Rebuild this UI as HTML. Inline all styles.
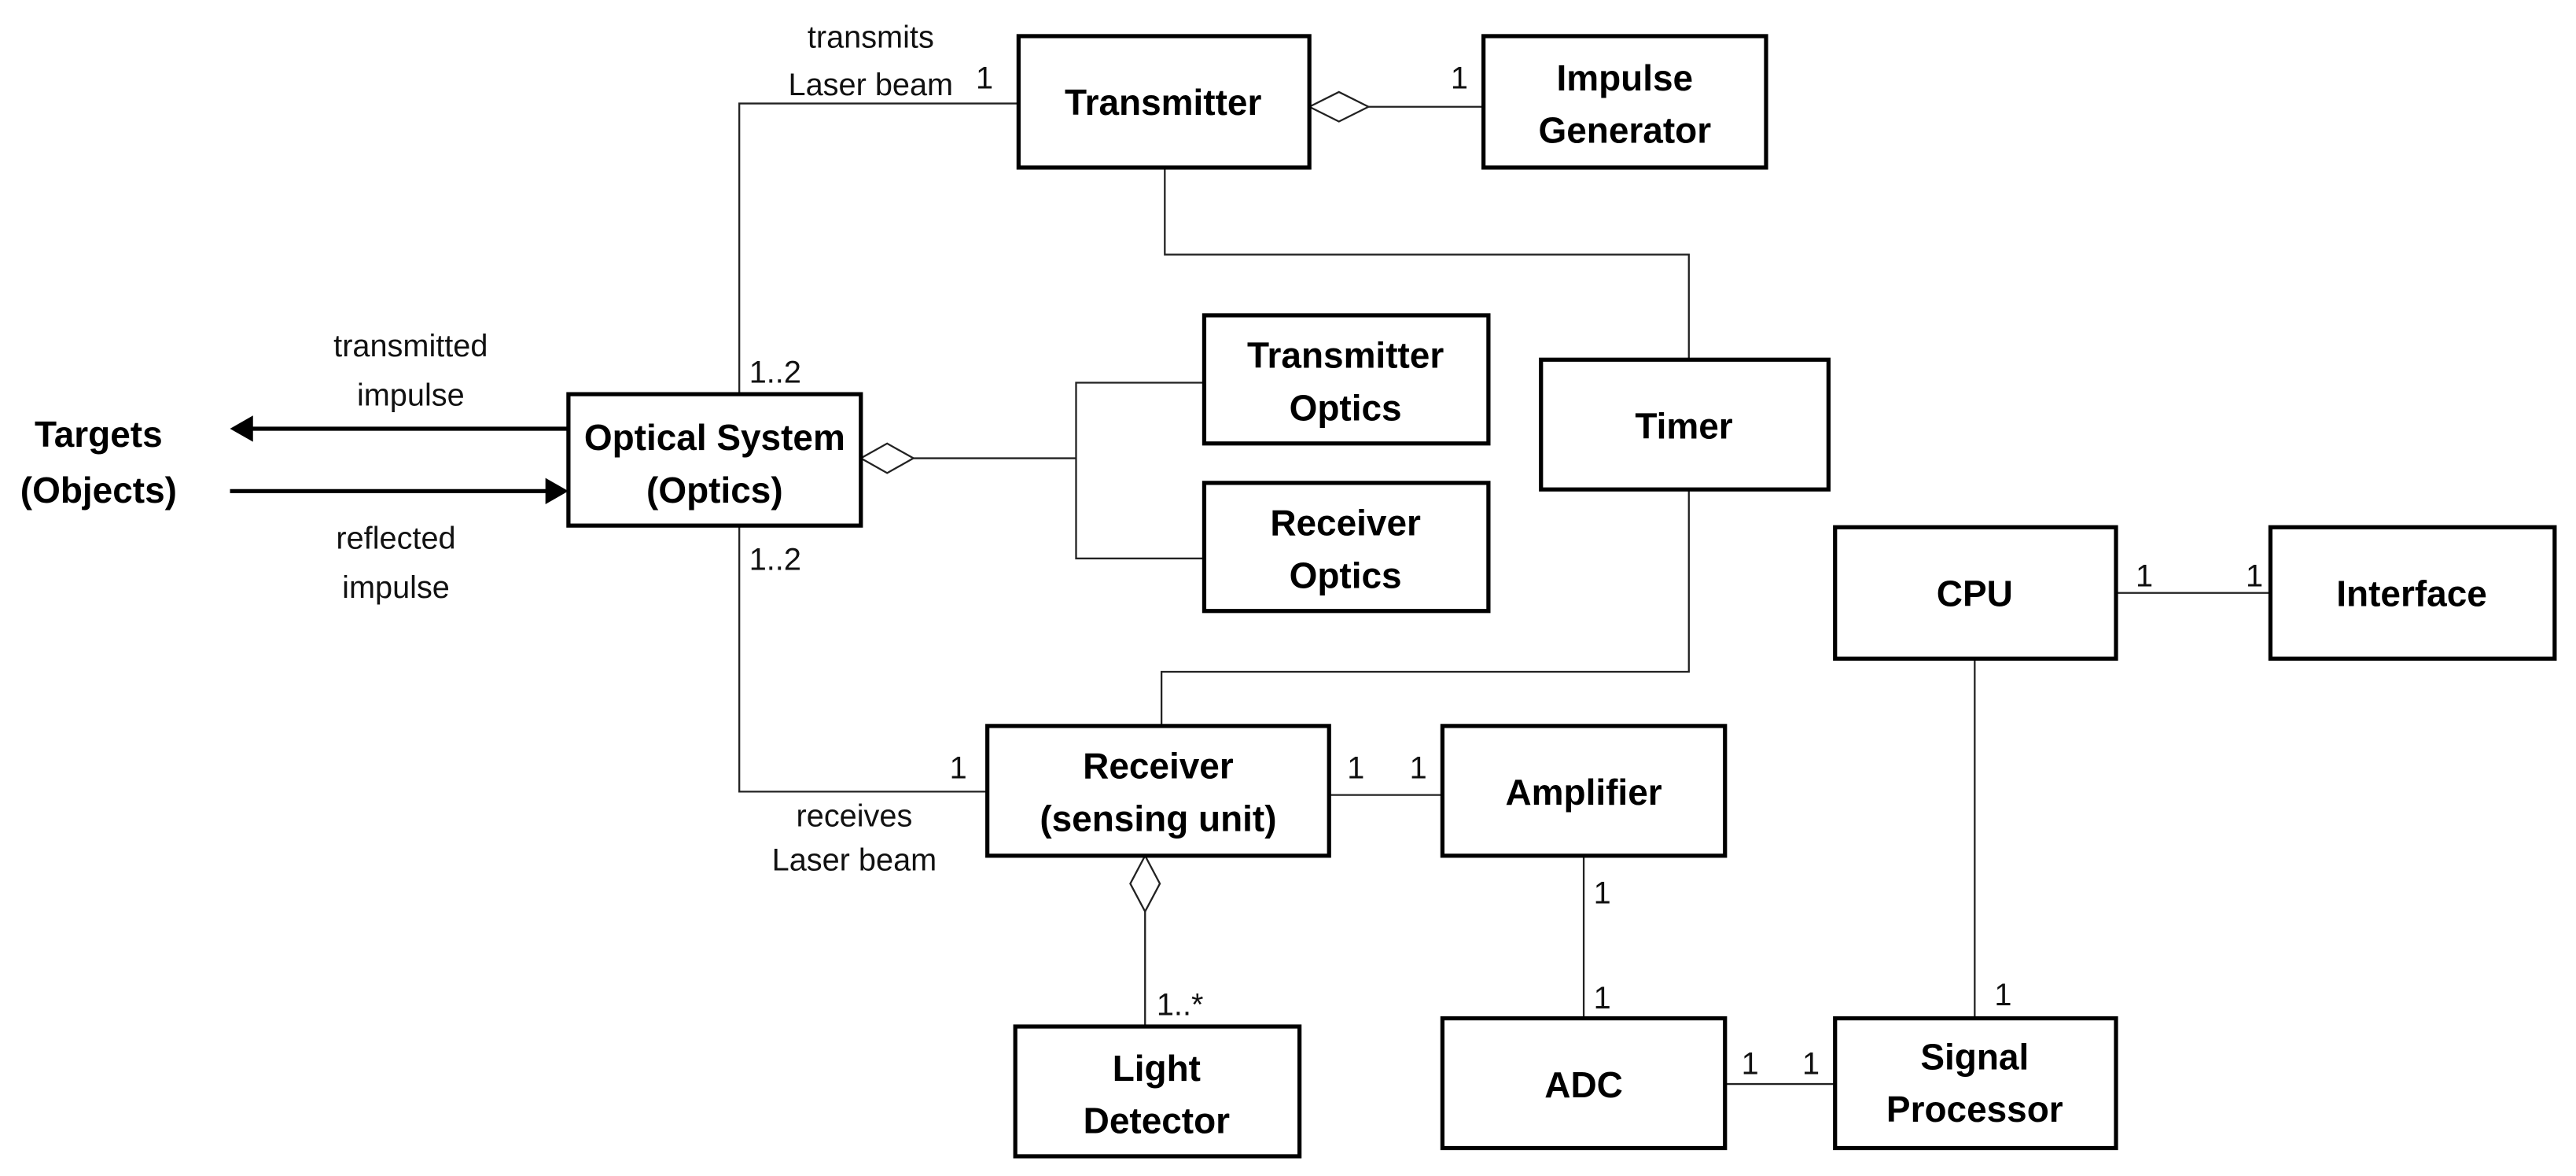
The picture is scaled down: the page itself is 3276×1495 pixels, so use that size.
<!DOCTYPE html>
<html><head><meta charset="utf-8"><style>
html,body{margin:0;padding:0;background:#fff;}
svg{display:block;}
.b{font-family:"Liberation Sans Narrow","Liberation Sans",sans-serif;font-weight:bold;font-size:22px;text-anchor:middle;fill:#000;}
.t{font-family:"Liberation Sans Narrow","Liberation Sans",sans-serif;font-size:19px;fill:#111;}
.m{text-anchor:middle;}
rect{fill:#fff;stroke:#000;stroke-width:2.5;}
.l{fill:none;stroke:#222;stroke-width:1.1;}
</style></head><body>
<svg width="3276" height="1495" viewBox="0 0 1568 716" preserveAspectRatio="none" xmlns="http://www.w3.org/2000/svg">
<!-- connectors -->
<polyline class="l" points="620,63 450,63 450,240"/>
<polyline class="l" points="833,65 903,65"/>
<polygon points="797,65 815,56 833,65 815,74" fill="#fff" stroke="#222" stroke-width="1.1"/>
<polyline class="l" points="709,102 709,155 1028,155 1028,219"/>
<polyline class="l" points="555,279 655,279"/>
<polyline class="l" points="733,233 655,233 655,340 733,340"/>
<polygon points="524,279 540,270 556,279 540,288" fill="#fff" stroke="#222" stroke-width="1.1"/>
<line x1="346" y1="261" x2="152" y2="261" stroke="#000" stroke-width="2.5"/>
<polygon points="140,261 154,253 154,269" fill="#000"/>
<line x1="140" y1="299" x2="334" y2="299" stroke="#000" stroke-width="2.5"/>
<polygon points="346,299 332,291 332,307" fill="#000"/>
<polyline class="l" points="450,320 450,482 601,482"/>
<polyline class="l" points="1028,298 1028,409 707,409 707,442"/>
<polyline class="l" points="809,484 878,484"/>
<polyline class="l" points="697,555 697,625"/>
<polygon points="697,521 706,538 697,555 688,538" fill="#fff" stroke="#222" stroke-width="1.1"/>
<polyline class="l" points="964,521 964,620"/>
<polyline class="l" points="1050,660 1117,660"/>
<polyline class="l" points="1202,401 1202,620"/>
<polyline class="l" points="1288,361 1382,361"/>
<!-- boxes -->
<rect x="620" y="22" width="177" height="80"/>
<rect x="903" y="22" width="172" height="80"/>
<rect x="733" y="192" width="173" height="78"/>
<rect x="733" y="294" width="173" height="78"/>
<rect x="938" y="219" width="175" height="79"/>
<rect x="346" y="240" width="178" height="80"/>
<rect x="1117" y="321" width="171" height="80"/>
<rect x="1382" y="321" width="173" height="80"/>
<rect x="601" y="442" width="208" height="79"/>
<rect x="878" y="442" width="172" height="79"/>
<rect x="618" y="625" width="173" height="79"/>
<rect x="878" y="620" width="172" height="79"/>
<rect x="1117" y="620" width="171" height="79"/>
<!-- box labels -->
<text class="b" x="708" y="70">Transmitter</text>
<text class="b" x="989" y="55">Impulse</text>
<text class="b" x="989" y="87">Generator</text>
<text class="b" x="819" y="224">Transmitter</text>
<text class="b" x="819" y="256">Optics</text>
<text class="b" x="819" y="326">Receiver</text>
<text class="b" x="819" y="358">Optics</text>
<text class="b" x="1025" y="267">Timer</text>
<text class="b" x="435" y="274">Optical System</text>
<text class="b" x="435" y="306">(Optics)</text>
<text class="b" x="1202" y="369">CPU</text>
<text class="b" x="1468" y="369">Interface</text>
<text class="b" x="705" y="474">Receiver</text>
<text class="b" x="705" y="506">(sensing unit)</text>
<text class="b" x="964" y="490">Amplifier</text>
<text class="b" x="704" y="658">Light</text>
<text class="b" x="704" y="690">Detector</text>
<text class="b" x="964" y="668">ADC</text>
<text class="b" x="1202" y="651">Signal</text>
<text class="b" x="1202" y="683">Processor</text>
<text class="b" x="60" y="272">Targets</text>
<text class="b" x="60" y="306">(Objects)</text>
<!-- small labels -->
<text class="t m" x="530" y="29">transmits</text>
<text class="t m" x="530" y="58">Laser beam</text>
<text class="t" x="594" y="54">1</text>
<text class="t" x="883" y="54">1</text>
<text class="t" x="456" y="233">1..2</text>
<text class="t" x="456" y="347">1..2</text>
<text class="t m" x="250" y="217">transmitted</text>
<text class="t m" x="250" y="247">impulse</text>
<text class="t m" x="241" y="334">reflected</text>
<text class="t m" x="241" y="364">impulse</text>
<text class="t" x="578" y="474">1</text>
<text class="t m" x="520" y="503">receives</text>
<text class="t m" x="520" y="530">Laser beam</text>
<text class="t" x="820" y="474">1</text>
<text class="t" x="858" y="474">1</text>
<text class="t" x="704" y="618">1..*</text>
<text class="t" x="970" y="550">1</text>
<text class="t" x="970" y="614">1</text>
<text class="t" x="1060" y="654">1</text>
<text class="t" x="1097" y="654">1</text>
<text class="t" x="1214" y="612">1</text>
<text class="t" x="1300" y="357">1</text>
<text class="t" x="1367" y="357">1</text>
</svg>
</body></html>
